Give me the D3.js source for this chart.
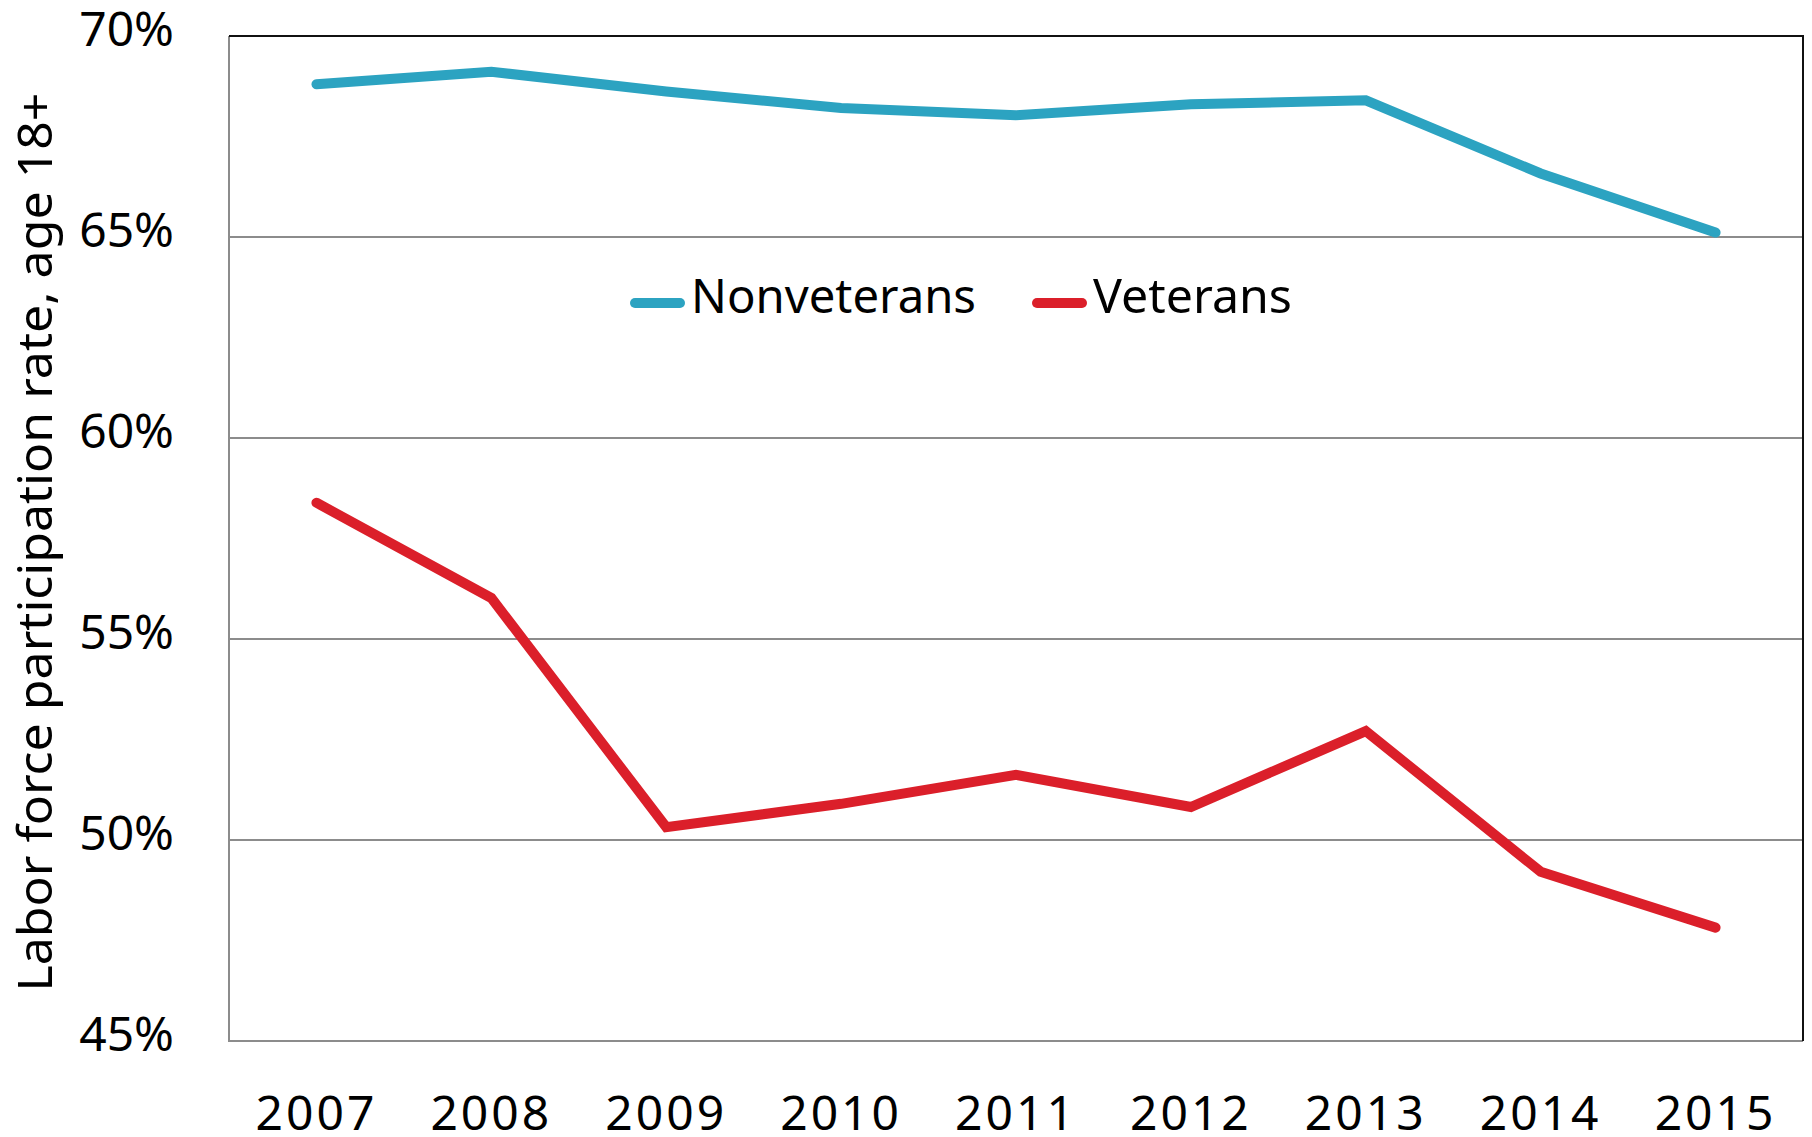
<!DOCTYPE html>
<html>
<head>
<meta charset="utf-8">
<script src="https://cdn.jsdelivr.net/npm/d3@7"></script>
<style>
  body { margin: 0; background: #fff; }
  text { font-family: "Noto Sans", "Open Sans", sans-serif; fill: #000; }
</style>
</head>
<body>
<div id="chart"></div>
<script>
const years = ["2007", "2008", "2009", "2010", "2011", "2012", "2013", "2014", "2015"];
const nonveterans = [68.80, 69.11, 68.62, 68.21, 68.03, 68.30, 68.40, 66.58, 65.11];
const veterans = [58.39, 56.02, 50.32, 50.90, 51.62, 50.82, 52.71, 49.21, 47.82];
const yTicks = [45, 50, 55, 60, 65, 70];
const seriesNames = ["Nonveterans", "Veterans"];
const seriesColors = ["#2ca3c1", "#db1f2a"];

// Width and Height of the whole picture
let width = 1812;
let height = 1137;
let plot = { left: 229, right: 1803, top: 36, bottom: 1041 };

let svg = d3.select("#chart")
  .append("svg")
  .attr("width", width)
  .attr("height", height);

let x = d3.scalePoint()
  .domain(years)
  .range([plot.left, plot.right])
  .padding(0.5);

let y = d3.scaleLinear()
  .domain([45, 70])
  .range([plot.bottom, plot.top]);

// gridlines
svg.append("g")
  .selectAll("line")
  .data(yTicks.slice(1, -1))
  .enter()
  .append("line")
  .attr("x1", plot.left)
  .attr("x2", plot.right)
  .attr("y1", (d) => y(d))
  .attr("y2", (d) => y(d))
  .attr("stroke", "#8c8c8c")
  .attr("stroke-width", 2);

// frame: left/bottom grey, top/right dark
svg.append("path")
  .attr("d", `M${plot.left},${plot.top}V${plot.bottom}H${plot.right}`)
  .attr("fill", "none")
  .attr("stroke", "#8c8c8c")
  .attr("stroke-width", 2);
svg.append("path")
  .attr("d", `M${plot.left},${plot.top}H${plot.right}V${plot.bottom}`)
  .attr("fill", "none")
  .attr("stroke", "#111")
  .attr("stroke-width", 2);

// y tick labels
svg.append("g")
  .selectAll("text")
  .data(yTicks)
  .enter()
  .append("text")
  .attr("x", 174)
  .attr("y", (d) => y(d) + 10)
  .attr("text-anchor", "end")
  .attr("font-size", 48)
  .text((d) => d + "%");

// x tick labels
svg.append("g")
  .selectAll("text")
  .data(years)
  .enter()
  .append("text")
  .attr("x", (d) => x(d))
  .attr("y", 1130)
  .attr("text-anchor", "middle")
  .attr("font-size", 48)
  .attr("letter-spacing", 3)
  .text((d) => d);

// y axis title
svg.append("text")
  .attr("transform", "translate(52,542) rotate(-90)")
  .attr("text-anchor", "middle")
  .attr("font-size", 48)
  .attr("textLength", 899)
  .attr("lengthAdjust", "spacingAndGlyphs")
  .text("Labor force participation rate, age 18+");

// lines
let line = d3.line()
  .x((d, i) => x(years[i]))
  .y((d) => y(d));

[nonveterans, veterans].forEach((values, k) => {
  svg.append("path")
    .datum(values)
    .attr("d", line)
    .attr("fill", "none")
    .attr("stroke", seriesColors[k])
    .attr("stroke-width", 10)
    .attr("stroke-linecap", "round")
    .attr("stroke-linejoin", "miter");
});

// legend
let legendX = [635, 1037];
let legendW = [285, 199];
seriesNames.forEach((name, k) => {
  let g = svg.append("g").attr("transform", `translate(${legendX[k]},303)`);
  g.append("line")
    .attr("x1", 0)
    .attr("x2", 45)
    .attr("stroke", seriesColors[k])
    .attr("stroke-width", 10)
    .attr("stroke-linecap", "round");
  g.append("text")
    .attr("x", 56)
    .attr("y", 10)
    .attr("font-size", 48)
    .attr("textLength", legendW[k])
    .attr("lengthAdjust", "spacingAndGlyphs")
    .text(name);
});
</script>
</body>
</html>
